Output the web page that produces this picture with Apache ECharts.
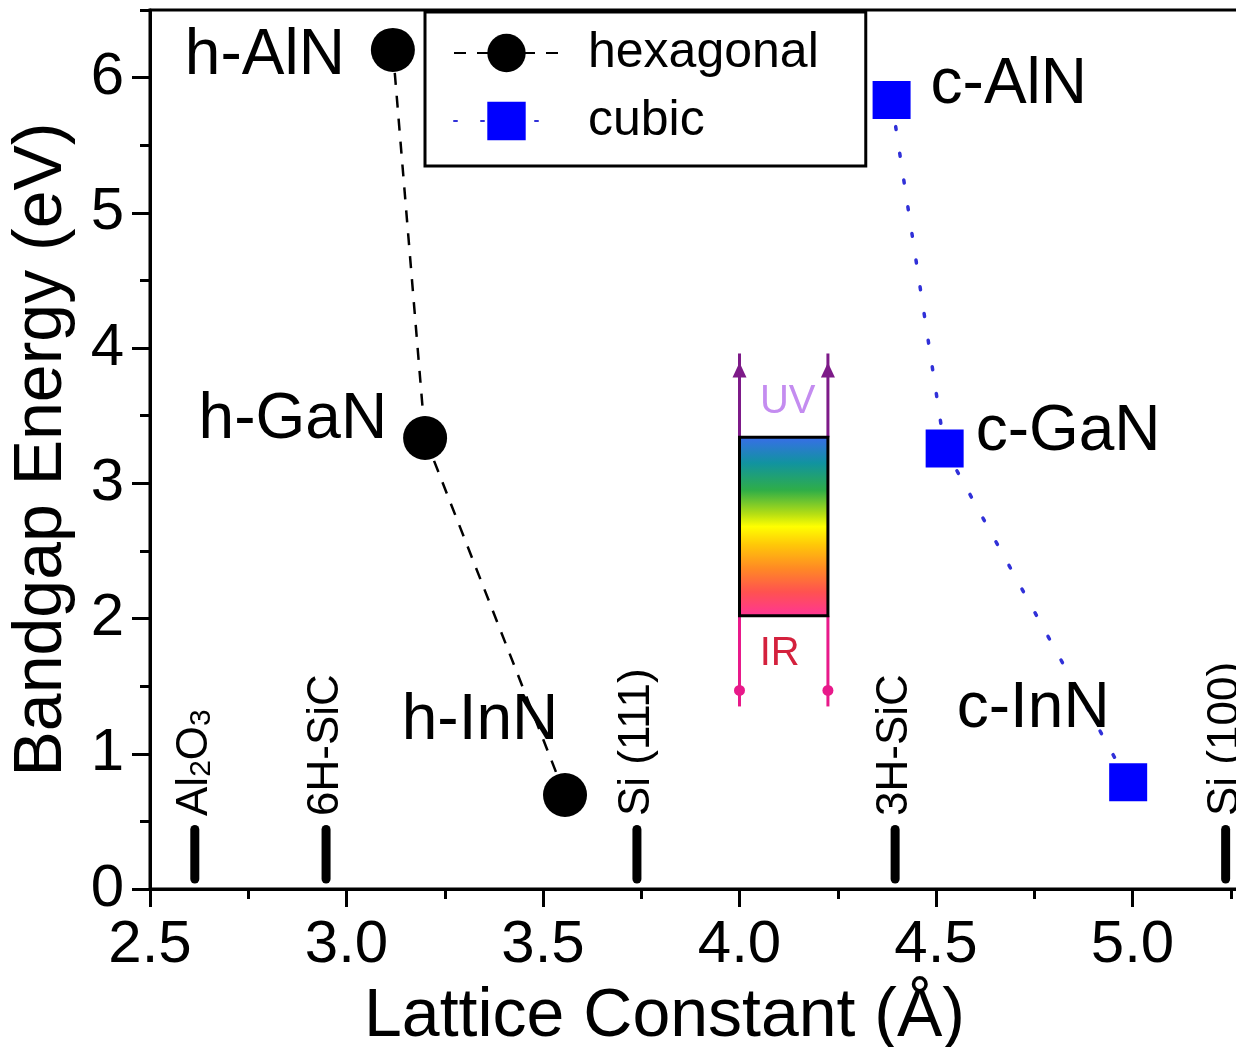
<!DOCTYPE html>
<html><head><meta charset="utf-8">
<script src="https://cdn.jsdelivr.net/npm/echarts@6/dist/echarts.min.js"></script>
<style>html,body{margin:0;padding:0;background:#fff}#c{width:1236px;height:1047px}</style>
</head><body><div id="c"></div>
<script>
// ---- data ----
const hexNames = ['h-AlN', 'h-GaN', 'h-InN'];
const hexLattice = [3.118, 3.20, 3.556];
const hexGap = [6.205, 3.335, 0.695];
const cubNames = ['c-AlN', 'c-GaN', 'c-InN'];
const cubLattice = [4.387, 4.522, 4.989];
const cubGap = [5.835, 3.258, 0.79];
const substrateNames = ['Al{s|2}O{s|3}', '6H-SiC', 'Si (111)', '3H-SiC', 'Si (100)'];
const substrateLattice = [2.614, 2.948, 3.739, 4.396, 5.237];
const substrateMarkTop = [0.44, 0.44, 0.44, 0.44, 0.44];
const visibleLattice = [4.0, 4.225];
const visibleGap = [2.02, 3.34];
const bandLimits = [3.96, 1.35];          // UV arrow top, IR arrow bottom
const bandLabels = ['UV', 'IR'];
const bandLabelGap = [3.6, 1.74];
const yMajorTicks = [0, 1, 2, 3, 4, 5, 6];

// ---- styles ----
const FONT = '"Liberation Sans", Arial, sans-serif';
const labelPlacement = {
  'h-AlN': {position: 'left', distance: 26, offset: [0, 6]},
  'h-GaN': {position: 'left', distance: 16, offset: [0, -18]},
  'h-InN': {position: 'top', distance: 20, offset: [-85, 0]},
  'c-AlN': {position: 'right', distance: 20, offset: [0, -15]},
  'c-GaN': {position: 'right', distance: 12, offset: [0, -16]},
  'c-InN': {position: 'top', distance: 22, offset: [-95, 0]}
};
function pts(names, xs, ys) {
  return names.map((n, i) => ({
    name: n, value: [xs[i], ys[i]],
    label: Object.assign({show: true, formatter: n, fontSize: 64, fontFamily: FONT, color: '#000'}, labelPlacement[n])
  }));
}

const chart = echarts.init(document.getElementById('c'), null, {renderer: 'canvas'});
const axisBlack = {color: '#000', width: 3};

chart.setOption({
  backgroundColor: '#fff',
  animation: false,
  grid: {left: 150, right: -93, top: 10, bottom: 158, outerBoundsMode: 'none', containLabel: false,
    show: true, borderColor: '#000', borderWidth: 3, backgroundColor: 'transparent'},
  legend: {
    data: ['hexagonal', 'cubic'],
    left: 425, top: 12, orient: 'vertical',
    padding: [16, 47, 20, 28],
    itemWidth: 105, itemHeight: 48, itemGap: 18,
    backgroundColor: '#fff', borderColor: '#000', borderWidth: 3,
    textStyle: {fontSize: 50, fontFamily: FONT, color: '#000', padding: [0, 0, 0, 24]},
    z: 10
  },
  xAxis: {
    type: 'value', min: 2.5, max: 5.5, interval: 0.5,
    name: 'Lattice Constant (Å)', nameLocation: 'middle', nameGap: 94,
    nameTextStyle: {fontSize: 68, fontFamily: FONT, color: '#000', padding: [0, 150, 0, 0]},
    axisLine: {show: true, onZero: false, lineStyle: axisBlack},
    axisTick: {show: true, inside: false, length: 18, lineStyle: axisBlack},
    minorTick: {show: true, splitNumber: 2, length: 10, lineStyle: axisBlack},
    axisLabel: {fontSize: 60, fontFamily: FONT, color: '#000', margin: 26, formatter: v => v.toFixed(1)},
    splitLine: {show: false}
  },
  yAxis: [{
    type: 'value', min: 0, max: 6.5, interval: 0.5,
    name: 'Bandgap Energy (eV)', nameLocation: 'middle', nameGap: 74,
    nameTextStyle: {fontSize: 68, fontFamily: FONT, color: '#000'},
    axisLine: {show: true, onZero: false, lineStyle: axisBlack},
    axisTick: {show: true, inside: false, length: 10, lineStyle: axisBlack},
    axisLabel: {fontSize: 60, fontFamily: FONT, color: '#000', margin: 26,
      formatter: v => (Math.abs(v - Math.round(v)) < 1e-9 ? String(Math.round(v)) : '')},
    splitLine: {show: false}
  }, {
    type: 'value', min: 0, max: 6.5, position: 'left', offset: 0,
    axisLine: {show: false},
    axisTick: {show: true, inside: false, length: 18, lineStyle: axisBlack, customValues: yMajorTicks},
    axisLabel: {show: false},
    splitLine: {show: false}
  }],
  series: [
    {
      name: 'hexagonal', type: 'line', data: pts(hexNames, hexLattice, hexGap),
      symbol: 'circle', symbolSize: 44,
      itemStyle: {color: '#000'},
      lineStyle: {color: '#000', width: 2.5, type: [12, 11]},
      z: 5
    },
    {
      name: 'cubic', type: 'line', data: pts(cubNames, cubLattice, cubGap),
      symbol: 'rect', symbolSize: 38,
      itemStyle: {color: '#0000ff'},
      lineStyle: {color: '#3030d8', width: 3.5, type: [3, 24], cap: 'round'},
      z: 5
    },
    {
      type: 'custom', silent: true, clip: false, z: 3,
      data: substrateLattice.map((x, i) => [x, substrateMarkTop[i], i]),
      encode: {x: 0, y: 1},
      renderItem: (params, api) => {
        const x = api.value(0), top = api.value(1), i = api.value(2);
        const p0 = api.coord([x, 0]);
        const p1 = api.coord([x, top]);
        const pt = api.coord([x, top + 0.1]);
        return {type: 'group', children: [
          {type: 'line', shape: {x1: p0[0], y1: p0[1] - 10, x2: p1[0], y2: p1[1]},
           style: {stroke: '#000', lineWidth: 9, lineCap: 'round'}},
          {type: 'text', x: pt[0], y: pt[1], rotation: Math.PI / 2,
           style: {text: substrateNames[i], fontSize: 44, fontFamily: FONT, fill: '#000',
             align: 'left', verticalAlign: 'middle',
             rich: {s: {fontSize: 30, fontFamily: FONT, fill: '#000', verticalAlign: 'bottom'}}}}
        ]};
      }
    },
    {
      type: 'custom', silent: true, clip: false, z: 4,
      data: [[visibleLattice[0], visibleLattice[1], visibleGap[0], visibleGap[1], bandLimits[0], bandLimits[1], bandLabelGap[0], bandLabelGap[1]]],
      encode: {x: [0, 1], y: [2, 3]},
      renderItem: (params, api) => {
        const tl = api.coord([api.value(0), api.value(3)]);
        const br = api.coord([api.value(1), api.value(2)]);
        const uvY = api.coord([api.value(0), api.value(4)])[1];
        const irY = api.coord([api.value(0), api.value(5)])[1];
        const midX = (tl[0] + br[0]) / 2;
        const uvLab = api.coord([api.value(0), api.value(6)])[1];
        const irLab = api.coord([api.value(0), api.value(7)])[1];
        const purple = '#7d1a88', pink = '#e8198a';
        const kids = [];
        [tl[0], br[0]].forEach(x => {
          kids.push({type: 'line', shape: {x1: x, y1: tl[1], x2: x, y2: uvY}, style: {stroke: purple, lineWidth: 3}});
          kids.push({type: 'polygon', shape: {points: [[x - 7, uvY + 24], [x + 7, uvY + 24], [x, uvY + 9]]}, style: {fill: purple}});
          kids.push({type: 'line', shape: {x1: x, y1: br[1], x2: x, y2: irY}, style: {stroke: pink, lineWidth: 3}});
          kids.push({type: 'circle', shape: {cx: x, cy: irY - 16, r: 5.5}, style: {fill: pink}});
        });
        kids.push({type: 'rect', shape: {x: tl[0], y: tl[1], width: br[0] - tl[0], height: br[1] - tl[1]},
          style: {stroke: '#000', lineWidth: 3, fill: new echarts.graphic.LinearGradient(0, 0, 0, 1, [
            {offset: 0, color: '#3a6cec'}, {offset: 0.15, color: '#1193a0'}, {offset: 0.3, color: '#2fae48'},
            {offset: 0.43, color: '#b4de14'}, {offset: 0.5, color: '#ffff00'}, {offset: 0.6, color: '#ffc808'},
            {offset: 0.73, color: '#ff8a24'}, {offset: 0.86, color: '#ff5250'}, {offset: 1, color: '#ff3399'}])}});
        kids.push({type: 'text', x: midX + 4, y: uvLab, style: {text: bandLabels[0], fontSize: 40, fontFamily: FONT, fill: '#c48cf0', align: 'center', verticalAlign: 'middle'}});
        kids.push({type: 'text', x: midX - 4, y: irLab, style: {text: bandLabels[1], fontSize: 40, fontFamily: FONT, fill: '#d4213d', align: 'center', verticalAlign: 'middle'}});
        return {type: 'group', children: kids};
      }
    }
  ]
});
</script>
</body></html>
